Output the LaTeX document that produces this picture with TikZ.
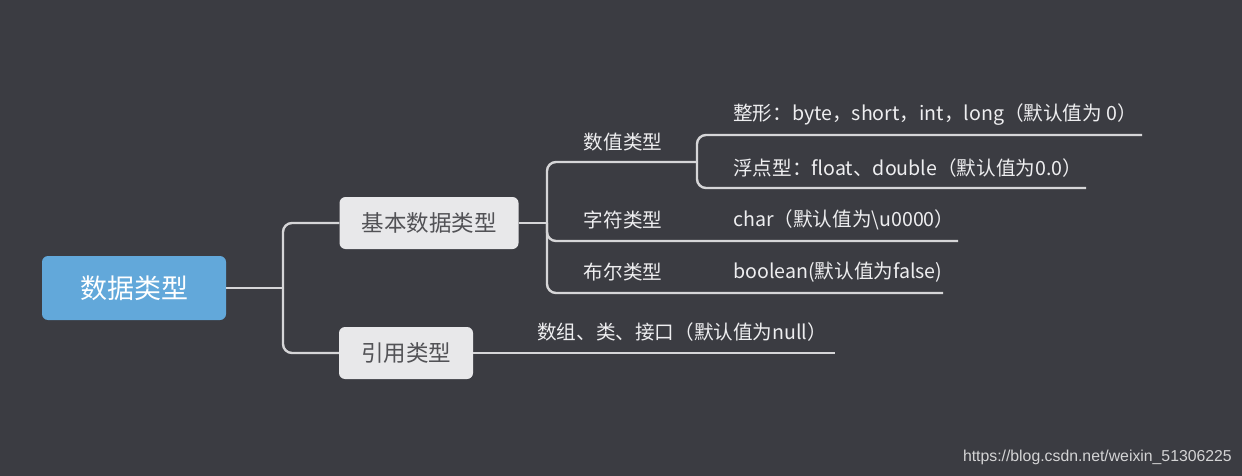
\documentclass[tikz,border=0pt]{standalone}
\usepackage{fontspec}
\setmainfont{Noto Sans CJK SC}
\newfontfamily\urlfont{Liberation Sans}
\usetikzlibrary{positioning}
\definecolor{bgdark}{RGB}{59,60,66}
\definecolor{rootblue}{RGB}{98,168,218}
\definecolor{boxgray}{RGB}{232,232,234}
\definecolor{boxtext}{RGB}{82,82,86}
\definecolor{linegray}{RGB}{214,214,216}
\definecolor{leaftext}{RGB}{238,238,240}

\begin{document}
\begin{tikzpicture}[x=1pt, y=-1pt,
  branch/.style={draw=linegray, line width=2.4pt, rounded corners=9pt},
  rootbox/.style={fill=rootblue, rounded corners=6pt, minimum width=184pt, minimum height=64pt, text=white, font=\fontsize{27}{30}\selectfont},
  midbox/.style={fill=boxgray, rounded corners=6pt, minimum height=52pt, text=boxtext, font=\fontsize{22.5}{25}\selectfont},
  leaf/.style={text=leaftext, inner sep=0pt, font=\fontsize{19.6}{22}\selectfont}]
\fill[bgdark] (0,0) rectangle (1242,476);
\useasboundingbox (0,0) rectangle (1242,476);

% main nodes
\node[rootbox] (root) at (134,288) {数据类型};
\node[midbox, minimum width=179pt] (basic) at (429,223) {基本数据类型};
\node[midbox, minimum width=134pt] (ref) at (406,353) {引用类型};

% second level labels
\node[leaf] (num) at (623,142) {数值类型};
\node[leaf] (chr) at (623,220) {字符类型};
\node[leaf] (bool) at (623,272) {布尔类型};

% leaves
\node[leaf, anchor=west] (intv) at (733,115) {整形：byte，short，int，long（默认值为 0）};
\node[leaf, anchor=west] (floatv) at (733,168) {浮点型：float、double（默认值为0.0）};
\node[leaf, anchor=west] (charv) at (733,220) {char（默认值为\textbackslash u0000）};
\node[leaf, anchor=west] (boolv) at (733,272) {boolean(默认值为false)};
\node[leaf, anchor=west] (arrv) at (537,332) {数组、类、接口（默认值为null）};

% line ends
\coordinate (rj) at (283,288);
\coordinate (bj) at (547,223);
\coordinate (numR) at (697,162);
\coordinate (intR) at (1142,135);
\coordinate (floatR) at (1086,188);
\coordinate (chrR) at (958,241);
\coordinate (boolR) at (943,293);
\coordinate (arrR) at (835,353);

% connectors
\draw[branch] (root.east) -- (rj);
\draw[branch] (rj) |- (basic.west);
\draw[branch] (rj) |- (ref.west);
\draw[branch] (basic.east) -- (bj);
\draw[branch] (bj) |- (numR);
\draw[branch] (bj) |- (chrR);
\draw[branch] (bj) |- (boolR);
\draw[branch] (numR) |- (intR);
\draw[branch] (numR) |- (floatR);
\draw[branch] (ref.east) -- (arrR);

\node[text=white!78!bgdark, font=\urlfont\fontsize{15.8}{18}\selectfont, anchor=east, inner sep=0pt] (mark) at (1232,457) {https://blog.csdn.net/weixin\_51306225};
\end{tikzpicture}
\end{document}
